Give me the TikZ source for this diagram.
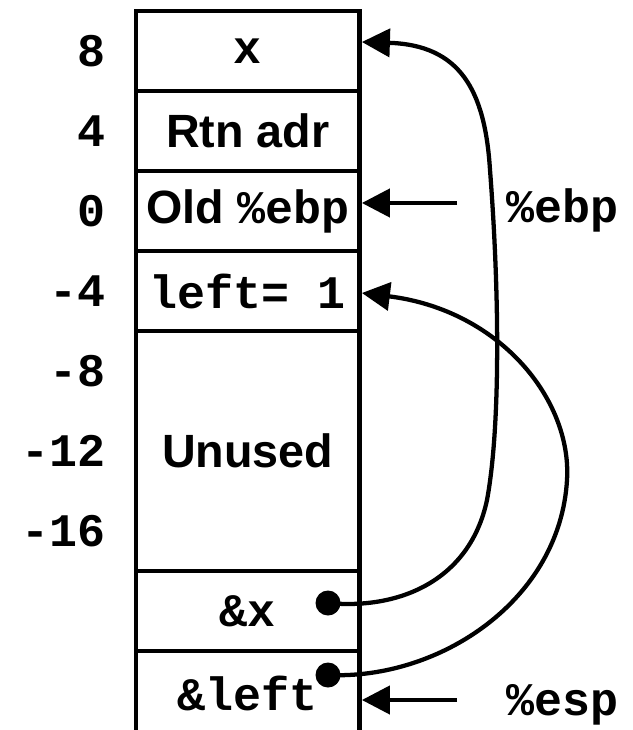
\documentclass[tikz,border=0pt]{standalone}
\usepackage{fontspec}
\setmainfont{Liberation Sans}
\newfontfamily\codefont{Liberation Mono}
\usetikzlibrary{arrows.meta}

\begin{document}
\begin{tikzpicture}[x=0.75pt, y=-0.75pt,
  cell/.style={draw, line width=3.6pt, minimum width=167.6pt, minimum height=60pt, inner sep=0pt, font=\fontsize{35}{42}\selectfont\bfseries},
  offs/.style={anchor=east, inner sep=0pt, font=\fontsize{35}{42}\selectfont\bfseries\codefont},
  reg/.style={inner sep=0pt, font=\fontsize{35}{42}\selectfont\bfseries\codefont},
  dot/.style={circle, fill, inner sep=0pt, minimum size=18.75pt},
  arr/.style={-{Triangle[length=21pt,width=21pt]}, line width=3.2pt}
]
\useasboundingbox (0,0) rectangle (632,730);

% stack frame
\node[cell] (r8)     at (247.75,51)  {\codefont x};
\node[cell] (r4)     at (247.75,131) {Rtn adr};
\node[cell] (r0)     at (247.75,211) {Old {\codefont\%ebp}};
\node[cell] (rm4)    at (247.75,291) {\codefont left= 1};
\node[cell, minimum height=180pt] (unused) at (247.75,451) {Unused};
\node[cell] (rx)     at (247.75,611) {\codefont\&x};
\node[cell, minimum height=63pt] (rleft) at (247.75,693) {\codefont\&left};

% offsets
\foreach \v [count=\i from 0] in {8,4,0,-4,-8,-12,-16}
  \node[offs] (off\i) at (106,51+80*\i) {\v};

% registers
\node[reg] (ebp) at (562,210) {\%ebp};
\node[reg] (esp) at (562,705) {\%esp};
\coordinate (ebpfrom) at (457,203);
\coordinate (espfrom) at (457,700);
\coordinate (ebpin)  at ([yshift=6pt]r0.east);
\coordinate (espin)  at ([yshift=-5.25pt]rleft.east);
\coordinate (xin)    at ([yshift=6.75pt]r8.east);
\coordinate (leftin) at ([yshift=-1.5pt]rm4.east);

\draw[arr] (ebpfrom) -- (ebpin);
\draw[arr] (espfrom) -- (espin);

% pointers
\node[dot] (dx)    at (328,603) {};
\node[dot] (dleft) at (328,675) {};
\draw[arr] (dx.center) .. controls (400,610) and (470,580) .. (487,500)
  .. controls (500,430) and (500,300) .. (490,170)
  .. controls (485,90) and (460,45) .. (xin);
\draw[arr] (dleft.center) .. controls (440,680) and (560,600) .. (567,480)
  .. controls (572,400) and (500,310) .. (leftin);
\end{tikzpicture}
\end{document}
